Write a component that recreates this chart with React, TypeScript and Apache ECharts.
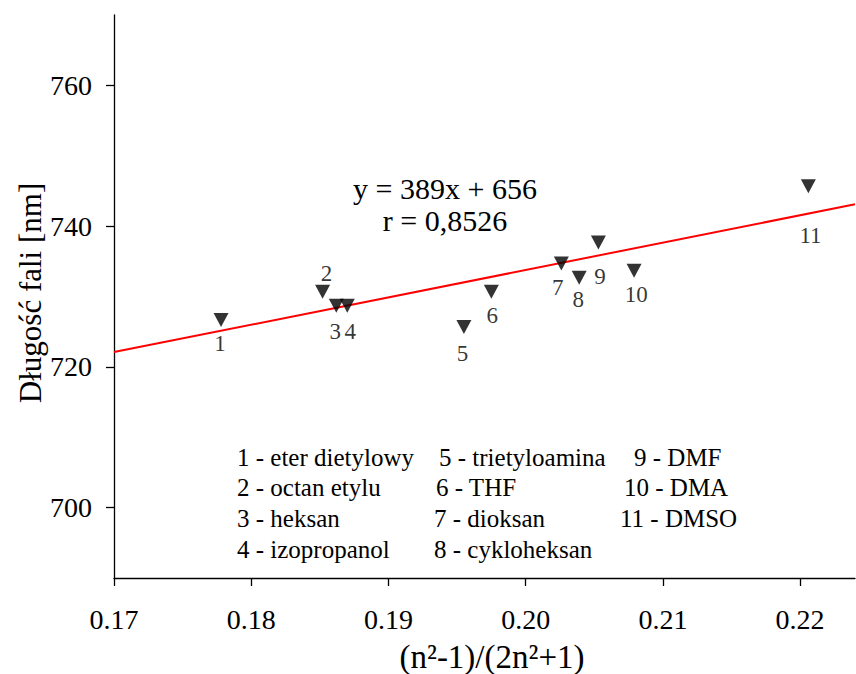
import React, { useEffect, useRef } from "react";
import * as echarts from "echarts";

// ---- data ----
const pointLabels = ["1", "2", "3", "4", "5", "6", "7", "8", "9", "10", "11"];
const solventNames = [
  "eter dietylowy",
  "octan etylu",
  "heksan",
  "izopropanol",
  "trietyloamina",
  "THF",
  "dioksan",
  "cykloheksan",
  "DMF",
  "DMA",
  "DMSO",
];
const xValues = [0.1778, 0.1852, 0.1862, 0.187, 0.1955, 0.1975, 0.2026, 0.2039, 0.2053, 0.2079, 0.2206];
const yValues = [727, 731, 729, 729, 726, 731, 735, 733, 738, 734, 746];
const xTicks = [0.17, 0.18, 0.19, 0.2, 0.21, 0.22];
const yTicks = [700, 720, 740, 760];
const fitX = [0.17, 0.224];
const fitY = [722.1, 743.1];
const equationLines = ["y = 389x + 656", "r = 0,8526"];
const xTitle = "(n²-1)/(2n²+1)";
const yTitle = "Długość fali [nm]";

// ---- layout (pixel offsets / positions) ----
const labelOffsets = [
  [-1, 26],
  [4, -16],
  [-1, 27.5],
  [3, 27.5],
  [-1.5, 29],
  [1, 26.3],
  [-3.7, 25.8],
  [-1, 24],
  [1.7, 36.3],
  [2.3, 26],
  [2.2, 51.7],
];
const legendPos = [
  [237, 457],
  [237, 487.5],
  [237, 518.5],
  [237, 549],
  [439, 457],
  [436, 487.5],
  [434, 518.5],
  [434, 549],
  [634, 457],
  [624, 487.5],
  [620, 518.5],
];

const FONT = "Liberation Serif";

export default function App() {
  const ref = useRef<HTMLDivElement>(null);
  useEffect(() => {
    document.body.style.margin = "0";
    if (!ref.current) return;
    const chart = echarts.init(ref.current, undefined, { renderer: "svg" });

    const graphic: any[] = [];
    equationLines.forEach((t, i) => {
      graphic.push({
        type: "text",
        x: 445,
        y: 188 + i * 32,
        style: { text: t, fontSize: 30, fontFamily: FONT, fill: "#000", align: "center", verticalAlign: "middle" },
      });
    });
    solventNames.forEach((name, i) => {
      graphic.push({
        type: "text",
        x: legendPos[i][0],
        y: legendPos[i][1],
        style: {
          text: `${pointLabels[i]} - ${name}`,
          fontSize: 25,
          fontFamily: FONT,
          fill: "#000",
          align: "left",
          verticalAlign: "middle",
        },
      });
    });
    graphic.push({
      type: "text",
      x: 30.5,
      y: 293,
      rotation: Math.PI / 2,
      style: { text: yTitle, fontSize: 31, fontFamily: FONT, fill: "#000", align: "center", verticalAlign: "middle" },
    });
    graphic.push({
      type: "text",
      x: 492,
      y: 657,
      style: {
        text: xTitle,
        fontSize: 33,
        lineHeight: 30,
        fontFamily: FONT,
        fill: "#000",
        align: "center",
        verticalAlign: "middle",
      },
    });

    const points = xValues.map((x, i) => [x, yValues[i]]);

    chart.setOption({
      animation: false,
      backgroundColor: "#fff",
      grid: { left: 114, right: 1, top: 15, bottom: 96, containLabel: false },
      xAxis: {
        type: "value",
        min: 0.17,
        max: 0.224,
        splitLine: { show: false },
        axisLine: { show: true, lineStyle: { color: "#000", width: 1.3 } },
        axisTick: { show: true, length: 8, lineStyle: { color: "#000", width: 1.3 }, customValues: xTicks },
        axisLabel: {
          customValues: xTicks,
          formatter: (v: number) => v.toFixed(2),
          fontSize: 28,
          fontFamily: FONT,
          color: "#000",
          margin: 27,
        },
      },
      yAxis: {
        type: "value",
        min: 690,
        max: 770,
        splitLine: { show: false },
        axisLine: { show: true, lineStyle: { color: "#000", width: 1.3 } },
        axisTick: { show: true, length: 8, lineStyle: { color: "#000", width: 1.3 }, customValues: yTicks },
        axisLabel: {
          customValues: yTicks,
          fontSize: 28,
          fontFamily: FONT,
          color: "#000",
          margin: 22,
        },
      },
      graphic,
      series: [
        {
          type: "line",
          data: fitX.map((x, i) => [x, fitY[i]]),
          showSymbol: false,
          symbol: "none",
          silent: true,
          lineStyle: { color: "#ff0000", width: 2 },
          z: 1,
        },
        {
          type: "scatter",
          data: points,
          symbol: "triangle",
          symbolRotate: 180,
          symbolSize: [15, 14],
          symbolOffset: [0, 2.3],
          itemStyle: { color: "#000" },
          silent: true,
          z: 3,
        },
        {
          type: "scatter",
          data: points.map((p, i) => ({
            value: p,
            label: {
              show: true,
              formatter: pointLabels[i],
              position: "inside",
              offset: labelOffsets[i],
            },
          })),
          symbol: "circle",
          symbolSize: 1,
          itemStyle: { color: "rgba(0,0,0,0)" },
          label: { fontSize: 23, fontFamily: FONT, color: "#000" },
          silent: true,
          z: 4,
        },
      ],
    });
    return () => chart.dispose();
  }, []);
  return (
    <div
      ref={ref}
      style={{ position: "fixed", left: 0, top: 0, width: 856, height: 674, background: "#fff" }}
    />
  );
}
